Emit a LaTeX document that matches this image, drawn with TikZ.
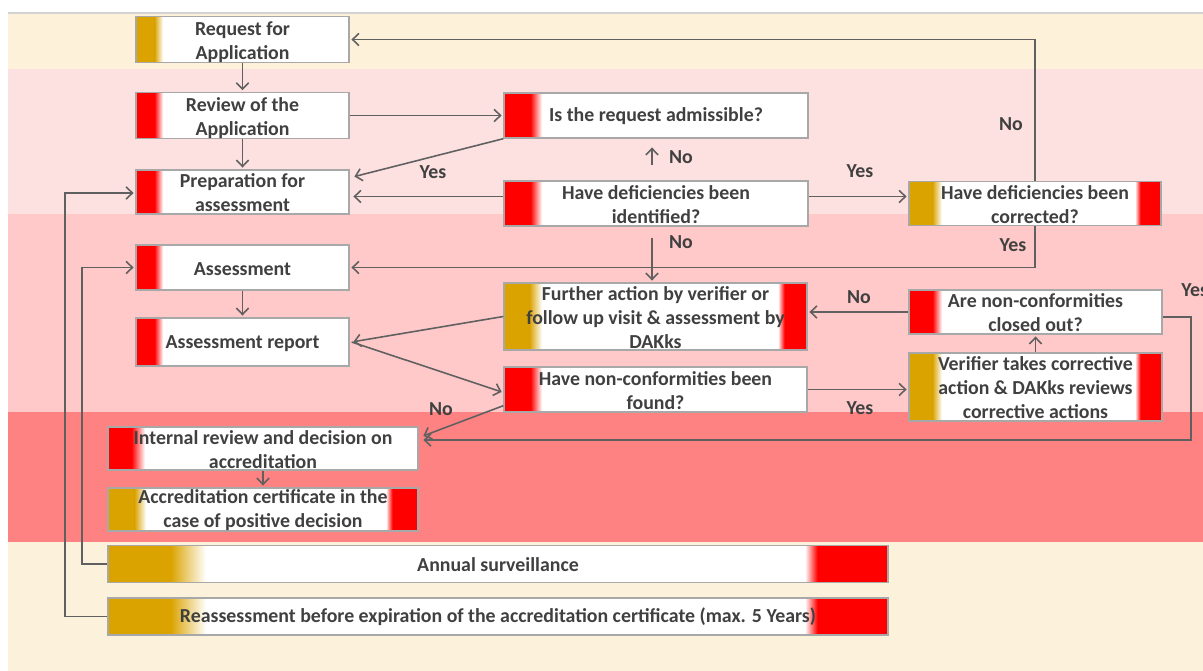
\documentclass[tikz,border=0pt]{standalone}
\usepackage{fontspec}
\setmainfont{Carlito}
\usetikzlibrary{arrows.meta,calc}

\definecolor{gold}{HTML}{DAA300}
\definecolor{barred}{HTML}{FF0000}
\definecolor{txt}{HTML}{404040}
\definecolor{edge}{HTML}{A8A8A8}
\definecolor{wire}{HTML}{606060}
\definecolor{creamA}{HTML}{FDF1D9}
\definecolor{pinkA}{HTML}{FDE1E1}
\definecolor{pinkB}{HTML}{FFC9C9}
\definecolor{pinkC}{HTML}{FF8282}
\definecolor{creamB}{HTML}{FCF2DC}

% colour bars at the left / right end of a box (colour, solid width, fade width)
\newcommand\lbarfill[3]{%
  \fill[#1] (path picture bounding box.south west) rectangle ([xshift=#2]path picture bounding box.north west);
  \shade[left color=#1,right color=white] ([xshift=#2-0.3pt]path picture bounding box.south west) rectangle ([xshift=#2+#3]path picture bounding box.north west);}
\newcommand\rbarfill[3]{%
  \fill[#1] ([xshift=-#2]path picture bounding box.south east) rectangle (path picture bounding box.north east);
  \shade[left color=white,right color=#1] ([xshift=-#2-#3]path picture bounding box.south east) rectangle ([xshift=-#2+0.3pt]path picture bounding box.north east);}
% invisible strut on the first text line, lowering the text a little
\newcommand\lift[1][8.9pt]{\rule{0pt}{#1}}

\begin{document}
\begin{tikzpicture}[x=0.02cm,y=-0.02cm,
  font=\fontsize{11.3}{13.6}\selectfont\bfseries,
  box/.style={draw=edge, line width=0.8pt, fill=white, inner sep=0pt,
    align=center, text=txt},
  small/.style={box, minimum width=4.26cm, minimum height=0.9cm},
  mid/.style={box, minimum width=6.06cm, minimum height=0.9cm},
  side/.style={box, minimum width=5.06cm, minimum height=0.89cm},
  low/.style={box, minimum width=6.2cm, minimum height=0.86cm},
  wide/.style={box, minimum width=15.6cm, minimum height=0.73cm},
  lbl/.style={text=txt, inner sep=0pt},
  arr/.style={draw=wire, line width=0.9pt, shorten >=1pt,
    -{Straight Barb[length=3.6pt,width=7pt]}}]

\useasboundingbox (0,0) rectangle (1203,671);

% background bands
\fill[white] (0,0) rectangle (1203,671);
\fill[creamA] (8,13) rectangle (1203,69);
\fill[pinkA] (8,69) rectangle (1203,214);
\fill[pinkB] (8,214) rectangle (1203,412);
\fill[pinkC] (8,412) rectangle (1203,542);
\fill[creamB] (8,542) rectangle (1203,671);
\draw[gray!35, line width=0.6pt] (8,13) -- (1203,13);

% left column
\node[small, path picture={\lbarfill{gold}{0.38cm}{0.16cm}}] (req) at (242.5,39.5) {\lift[10.6pt]Request for\\Application};
\node[small, path picture={\lbarfill{barred}{0.38cm}{0.16cm}}] (rev) at (242.5,115.5) {\lift[10.6pt]Review of the\\Application};
\node[small, minimum height=0.88cm, path picture={\lbarfill{barred}{0.38cm}{0.16cm}}] (prep) at (242.5,192) {\lift Preparation for\\assessment};
\node[small, path picture={\lbarfill{barred}{0.38cm}{0.16cm}}] (ass) at (242.5,267.5) {\lift Assessment};
\node[small, minimum height=0.96cm, path picture={\lbarfill{barred}{0.38cm}{0.16cm}}] (rep) at (242.5,342) {\lift Assessment report};

% middle column
\node[mid, minimum width=6.08cm, path picture={\lbarfill{barred}{0.54cm}{0.22cm}}] (adm) at (656,115.5) {\lift Is the request admissible?};
\node[mid, minimum width=6.08cm, path picture={\lbarfill{barred}{0.54cm}{0.22cm}}] (ident) at (656,203.5) {\lift Have deficiencies been\\identified?};
\node[mid, minimum height=1.34cm, path picture={\lbarfill{gold}{0.52cm}{0.24cm}\rbarfill{barred}{0.46cm}{0.12cm}}] (fur) at (655.5,316.5) {\lift Further action by verifier or\\follow up visit \& assessment by\\DAKks};
\node[mid, path picture={\lbarfill{barred}{0.54cm}{0.22cm}}] (nc) at (655.5,389.5) {\lift Have non-conformities been\\found?};

% right column
\node[side, minimum width=5.04cm, path picture={\lbarfill{gold}{0.48cm}{0.18cm}\rbarfill{barred}{0.42cm}{0.1cm}}] (corr) at (1035,203.5) {\lift Have deficiencies been\\corrected?};
\node[side, minimum height=0.88cm, path picture={\lbarfill{barred}{0.48cm}{0.18cm}}] (clo) at (1035.5,312) {\lift Are non-conformities\\closed out?};
\node[side, minimum height=1.36cm, path picture={\lbarfill{gold}{0.48cm}{0.18cm}\rbarfill{barred}{0.44cm}{0.1cm}}] (ver) at (1035.5,387) {\lift Verifier takes corrective\\action \& DAKks reviews\\corrective actions};

% decision and certificate
\node[low, path picture={\lbarfill{barred}{0.48cm}{0.26cm}}] (int) at (263,448.5) {\lift Internal review and decision on\\accreditation};
\node[low, path picture={\lbarfill{gold}{0.54cm}{0.22cm}\rbarfill{barred}{0.52cm}{0.12cm}}] (cert) at (263,509.5) {\lift Accreditation certificate in the\\case of positive decision};

% surveillance and reassessment
\node[wide, path picture={\lbarfill{gold}{1.26cm}{0.7cm}\rbarfill{barred}{1.42cm}{0.24cm}}] (ann) at (498,564) {\lift Annual surveillance};
\node[wide, minimum height=0.74cm, path picture={\lbarfill{gold}{1.26cm}{0.7cm}\rbarfill{barred}{1.42cm}{0.24cm}}] (rea) at (498,616.5) {\lift Reassessment before expiration of the accreditation certificate (max. 5 Years)};

% loop coordinates
\coordinate (loopA) at (82,564);
\coordinate (loopB) at (65,616.5);
\coordinate (loopR) at (1191,440);

% connectors
\draw[arr] (req.south) -- (rev.north);
\draw[arr] (rev.south) -- (prep.north);
\draw[arr] (rev.east) -- (adm.west);
\draw[arr] (adm.south west) -- ($(prep.east)+(3,-15)$);
\draw[arr] ($(ident.west)+(0,-7)$) -- ($(prep.east)+(2,4.5)$);
\draw[arr] ($(ident.north)+(-4,-15)$) -- ($(adm.south)+(-4,7)$);
\draw[arr] ($(ident.east)+(0,-7)$) -- ($(corr.west)+(0,-7)$);
\draw[arr] (corr.north) |- (req.east);
\draw[arr] (corr.south) |- (ass.east);
\draw[arr] ($(ident.south)+(-4,11)$) -- ($(fur.north)+(-3.5,0)$);
\draw[arr] (ass.south) -- (rep.north);
\draw[arr] (fur.west) -- ($(rep.east)+(2,0)$);
\draw[arr] ($(rep.east)+(2,0)$) -- ($(nc.west)+(0,3)$);
\draw[arr] ($(nc.south west)+(0,-7)$) -- ($(int.east)+(3,-12)$);
\draw[arr] (nc.east) -- (nc.east -| ver.west);
\draw[arr] (ver.north) -- (clo.south);
\draw[arr] (clo.west) -- (clo.west -| fur.east);
\draw[arr] ($(clo.east)+(0,5)$) -| (loopR) -- ($(loopR -| int.east)+(3,0)$);
\draw[arr] (int.south) -- (cert.north);
\draw[arr] (ann.west) -- (loopA) |- (ass.west);
\draw[arr] (rea.west) -- (loopB) |- ($(prep.west)+(0,1)$);

% branch labels
\node[lbl] (l1) at (433,172) {Yes};
\node[lbl] (l2) at (681,157) {No};
\node[lbl] (l3) at (860,171) {Yes};
\node[lbl] (l4) at (1011,124) {No};
\node[lbl] (l5) at (1013,245) {Yes};
\node[lbl] (l6) at (681,242) {No};
\node[lbl] (l7) at (859,297) {No};
\node[lbl] (l8) at (860,408) {Yes};
\node[lbl] (l9) at (441,409) {No};
\node[lbl, anchor=west] (l10) at (1181,290) {Yes};
\end{tikzpicture}
\end{document}
